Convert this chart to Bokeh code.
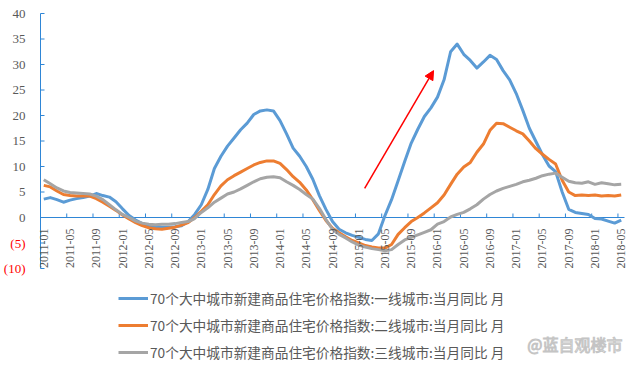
import math
from bokeh.plotting import figure
from bokeh.models import (ColumnDataSource, LabelSet, Legend, LegendItem,
                          Arrow, NormalHead, Label, Range1d)
from bokeh.embed import file_html
from bokeh.resources import INLINE

# ---------------- data ----------------
months = [f"{y}-{m:02d}" for y in range(2011, 2019) for m in range(1, 13)][:89]

tick_labels = ["2011-01", "2011-05", "2011-09", "2012-01", "2012-05", "2012-09",
               "2013-01", "2013-05", "2013-09", "2014-01", "2014-05", "2014-09",
               "2015-01", "2015-05", "2015-09", "2016-01", "2016-05", "2016-09",
               "2017-01", "2017-05", "2017-09", "2018-01", "2018-05"]

y_ticks = [-10, -5, 0, 5, 10, 15, 20, 25, 30, 35, 40]
y_tick_labels = ["(10)", "(5)", "0", "5", "10", "15", "20", "25", "30", "35", "40"]

tier1 = [3.6, 3.9, 3.5, 3.0, 3.4, 3.7, 3.9, 4.2, 4.7, 4.3,
         4.0, 3.1, 1.7, 0.4, -0.5, -1.2, -1.6, -1.8, -1.9, -1.9,
         -1.8, -1.6, -0.8, 0.6, 2.5, 5.5, 9.6, 12.0, 14.0, 15.6,
         17.2, 18.5, 20.2, 20.9, 21.1, 20.9, 19.0, 16.4, 13.6, 12.0,
         10.0, 7.5, 4.3, 1.6, -0.8, -2.3, -3.0, -3.5, -3.9, -4.3,
         -4.5, -3.2, 0.4, 3.5, 7.2, 11.0, 14.6, 17.3, 19.8, 21.5,
         23.6, 27.0, 32.5, 34.0, 32.0, 30.8, 29.3, 30.5, 31.8, 31.0,
         28.8, 27.0, 24.3, 21.0, 17.5, 14.9, 12.3, 10.1, 9.0, 5.0,
         1.6, 1.0, 0.8, 0.6, -0.2, -0.3, -0.7, -1.1, -0.5]

tier2 = [6.3, 6.0, 5.2, 4.5, 4.3, 4.2, 4.2, 4.2, 3.7, 3.0,
         2.2, 1.4, 0.5, -0.3, -1.0, -1.6, -2.0, -2.2, -2.3, -2.1,
         -1.9, -1.5, -1.0, 0.0, 1.2, 2.5, 4.5, 6.2, 7.4, 8.2,
         8.9, 9.6, 10.3, 10.8, 11.1, 11.1, 10.6, 9.4, 8.0, 6.9,
         5.4, 3.5, 1.4, -0.6, -2.1, -3.0, -3.8, -4.5, -5.0, -5.5,
         -5.8, -6.0, -6.0, -5.3, -3.3, -2.0, -0.8, 0.0, 0.9, 1.9,
         2.9, 4.4, 6.5, 8.5, 9.9, 10.8, 12.8, 14.4, 17.1, 18.5,
         18.4, 17.7, 17.0, 16.4, 15.0, 13.5, 12.4, 11.4, 10.5, 7.3,
         5.0, 4.3, 4.4, 4.3, 4.4, 4.2, 4.3, 4.2, 4.4]

tier3 = [7.4, 6.6, 5.8, 5.2, 4.9, 4.8, 4.7, 4.6, 4.2, 3.5,
         2.5, 1.5, 0.6, 0.0, -0.7, -1.1, -1.3, -1.4, -1.3, -1.3,
         -1.2, -1.0, -0.8, -0.2, 1.0, 1.9, 3.0, 3.8, 4.6, 5.0,
         5.6, 6.3, 7.0, 7.6, 7.9, 8.0, 7.8, 7.0, 6.3, 5.5,
         4.5, 3.6, 1.8, -0.4, -2.3, -3.3, -4.0, -4.8, -5.4, -5.8,
         -6.1, -6.3, -6.5, -6.3, -5.3, -4.4, -3.9, -3.4, -2.9, -2.4,
         -1.3, -0.8, 0.1, 0.6, 1.0, 1.7, 2.5, 3.6, 4.5, 5.2,
         5.7, 6.1, 6.5, 7.0, 7.3, 7.7, 8.2, 8.5, 8.7, 7.9,
         7.1, 6.8, 6.7, 7.0, 6.5, 6.8, 6.6, 6.4, 6.5]

series_names = ["70个大中城市新建商品住宅价格指数:一线城市:当月同比 月",
                "70个大中城市新建商品住宅价格指数:二线城市:当月同比 月",
                "70个大中城市新建商品住宅价格指数:三线城市:当月同比 月"]
colors = ["#5B9BD5", "#ED7D31", "#A5A5A5"]

watermark = "@蓝自观楼市"

# ---------------- layout (pixels) ----------------
W, H = 640, 366
PLOT_L, PLOT_R = 40, 624      # category axis extent in px
PLOT_T, PLOT_B = 13, 268      # value axis extent in px
Y_MIN, Y_MAX = -10, 40

AXIS = "#2F86D6"
LABEL = "#595959"
FONT = "Liberation Sans"

n = len(months)
x = list(range(n))
xa0, xa1 = -0.5, n - 0.5
ppx = (PLOT_R - PLOT_L) / (xa1 - xa0)
ppy = (PLOT_B - PLOT_T) / (Y_MAX - Y_MIN)
x_range = Range1d(xa0 - PLOT_L / ppx, xa1 + (W - PLOT_R) / ppx)
y_range = Range1d(Y_MIN - (H - PLOT_B) / ppy, Y_MAX + PLOT_T / ppy)

p = figure(width=W, height=H, x_range=x_range, y_range=y_range,
           x_axis_location=None, y_axis_location=None,
           output_backend="svg", toolbar_location=None,
           min_border=0)
p.grid.visible = False
p.outline_line_color = None
p.background_fill_color = "white"
p.border_fill_color = "white"

# value axis (left)
p.segment(x0=[xa0], y0=[Y_MIN], x1=[xa0], y1=[Y_MAX], line_color=AXIS, line_width=1)
p.ray(x=[xa0] * len(y_ticks), y=y_ticks, length=4, length_units="screen",
      angle=0, line_color=AXIS, line_width=1)
yl_src = ColumnDataSource(dict(x=[xa0] * len(y_ticks), y=y_ticks, text=y_tick_labels,
                               color=["#FF0000" if t < 0 else LABEL for t in y_ticks]))
p.add_layout(LabelSet(x="x", y="y", text="text", source=yl_src, x_offset=-15,
                      text_align="right", text_baseline="middle", text_color="color",
                      text_font=FONT, text_font_size="13px"))

# category axis drawn at value 0
p.segment(x0=[xa0], y0=[0], x1=[xa1], y1=[0], line_color=AXIS, line_width=1)
tick_idx = [months.index(t) for t in tick_labels]
p.ray(x=[i - 0.5 for i in tick_idx], y=[0] * len(tick_idx), length=4, length_units="screen",
      angle=math.pi / 2, line_color=AXIS, line_width=1)
xl_src = ColumnDataSource(dict(x=tick_idx, y=[0] * len(tick_idx), text=tick_labels))
p.add_layout(LabelSet(x="x", y="y", text="text", source=xl_src, angle=math.pi / 2,
                      y_offset=-11, text_align="right", text_baseline="middle",
                      text_color=LABEL, text_font=FONT, text_font_size="12px"))

renderers = []
for vals, c in zip([tier1, tier2, tier3], colors):
    r = p.line(x, vals, line_width=3, line_color=c, line_join="round")
    renderers.append(r)

legend = Legend(items=[LegendItem(label=nm, renderers=[r]) for nm, r in zip(series_names, renderers)],
                location=(118, 4), orientation="vertical", padding=0, margin=0,
                spacing=7, glyph_width=30, glyph_height=20, label_height=20,
                label_standoff=2, border_line_color=None, background_fill_alpha=0,
                label_text_font="Noto Sans CJK SC", label_text_font_size="13.7px",
                label_text_color=LABEL)
p.add_layout(legend)

p.add_layout(Arrow(end=NormalHead(size=9, fill_color="red", line_color="red"),
                   x_start=48.9, y_start=5.7, x_end=59.4, y_end=28.8,
                   line_color="red", line_width=1.5))

p.add_layout(Label(x=xa1, y=Y_MIN, x_offset=-2, y_offset=-75,
                   text=watermark, text_align="right", text_baseline="middle",
                   text_color="#ffffff", text_outline_color="#c4c4c4",
                   text_font="Noto Sans CJK SC", text_font_size="16px"))

open("out.html", "w").write(file_html(p, INLINE))
